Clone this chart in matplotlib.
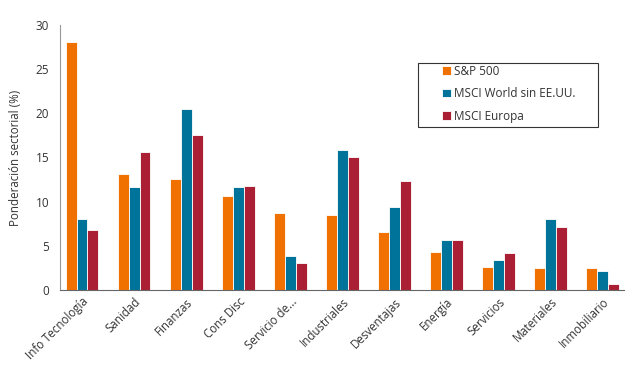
import numpy as np
import matplotlib.pyplot as plt
from matplotlib.patches import Rectangle

plt.rcParams['font.family'] = ['Open Sans', 'DejaVu Sans']

sectores = ["Info Tecnología", "Sanidad", "Finanzas", "Cons Disc", "Servicio de...",
            "Industriales", "Desventajas", "Energía", "Servicios", "Materiales", "Inmobiliario"]
sp500 = [28.1, 13.1, 12.6, 10.6, 8.7, 8.5, 6.6, 4.3, 2.6, 2.5, 2.5]
msci_world = [8.0, 11.7, 20.5, 11.6, 3.8, 15.8, 9.4, 5.7, 3.4, 8.0, 2.1]
msci_europa = [6.8, 15.6, 17.6, 11.8, 3.1, 15.1, 12.3, 5.6, 4.2, 7.1, 0.7]

series = [("S&P 500", sp500, "#F07100"),
          ("MSCI World sin EE.UU.", msci_world, "#00739A"),
          ("MSCI Europa", msci_europa, "#AA1F33")]

fig = plt.figure(figsize=(6.4, 3.79), dpi=100)
ax = fig.add_axes([0.094, 0.235, 0.881, 0.699])

x = np.arange(len(sectores))
w = 0.21
for i, (name, vals, col) in enumerate(series):
    ax.bar(x + (i - 1) * w, vals, width=w, color=col, edgecolor="white", linewidth=0.6, label=name)

ax.set_xlim(-0.42, 10.41)
ax.set_ylim(0, 30)
ax.set_yticks([0, 5, 10, 15, 20, 25, 30])
ax.set_xticks(x)
ax.set_xticklabels(sectores, rotation=45, ha="right", rotation_mode="anchor", fontsize=8.3, color="#333333")
ax.tick_params(axis="y", labelsize=8.5, colors="#333333", length=0, pad=8)
ax.tick_params(axis="x", length=0, pad=4)
ax.set_ylabel("Ponderación sectorial (%)", fontsize=8.3, color="#333333", labelpad=10)

for s in ["top", "right"]:
    ax.spines[s].set_visible(False)
ax.spines["left"].set_color("#999999")
ax.spines["bottom"].set_color("#666666")

# legend box drawn separately (wider than the entries)
ax.add_patch(Rectangle((0.635, 0.615), 0.319, 0.242, transform=ax.transAxes, fill=False,
                       edgecolor="#333333", linewidth=0.8, clip_on=False))
leg = ax.legend(loc="upper left", bbox_to_anchor=(0.678, 0.85), fontsize=8.5, frameon=False,
                handlelength=0.7, handleheight=0.7, handletextpad=0.3, labelspacing=0.8,
                borderpad=0, borderaxespad=0)
for t in leg.get_texts():
    t.set_color("#333333")

fig.savefig("out.png", dpi=100)
